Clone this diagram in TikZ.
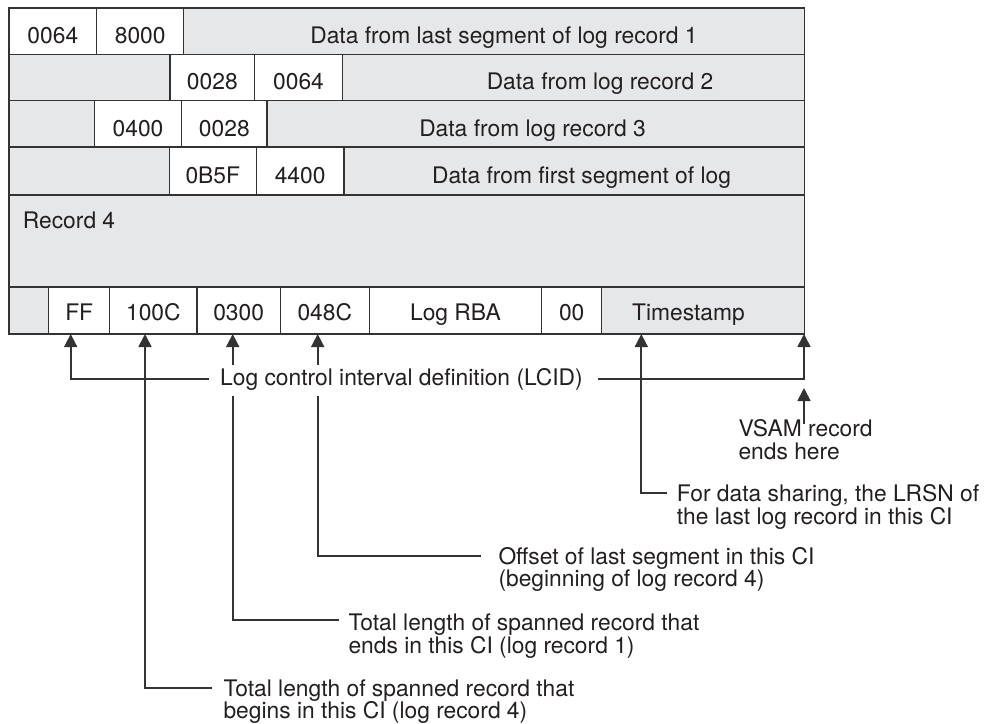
\documentclass[tikz,border=0pt]{standalone}
\usepackage{fontspec}
\setmainfont{TeX Gyre Heros}
\usetikzlibrary{arrows.meta}
\definecolor{boxgray}{HTML}{E6E7E8}
\definecolor{linec}{HTML}{333333}
\definecolor{txt}{HTML}{231F20}
\newcommand\labfont{\fontsize{22.8}{22.7}\selectfont}
\newcommand\mkcell[7]{%
  \node[cell,minimum width=#4pt,minimum height=#5pt] (#1) at (#2,#3) {};
  \node[lab] at ([yshift=#7pt]#1.south) {#6};}
\begin{document}
\begin{tikzpicture}[x=1pt,y=-1pt,
  cell/.style={draw=linec,fill=white,line width=1.5pt,anchor=north west,inner sep=0pt,outer sep=0pt},
  lab/.style={font=\labfont,text=txt,inner sep=0pt,anchor=base},
  note/.style={font=\labfont,text=txt,inner sep=0pt,anchor=base west},
  conn/.style={draw=linec,line width=1.7pt},
  arr/.style={conn,-{Triangle[length=13pt,width=13pt]}}]
\useasboundingbox (0,0) rectangle (990,723);
% frame
\node[draw=linec,fill=boxgray,line width=1.5pt,anchor=north west,inner sep=0pt,outer sep=0pt,
      minimum width=795.5pt,minimum height=326pt] (frame) at (9,8) {};
\foreach \yy in {54.5,100.5,147,195,287}
  \draw[draw=linec,line width=1.5pt] (9,\yy) -- (804.5,\yy);
% row 1
\mkcell{r1a}{9}{8}{87.7}{46.5}{0064}{11.5}
\mkcell{r1b}{96.7}{8}{87}{46.5}{8000}{11.5}
\node[lab] (g1) at (504,43) {Data from last segment of log record 1};
% row 2
\mkcell{r2a}{170}{54.5}{84.7}{46}{0028}{11.2}
\mkcell{r2b}{254.7}{54.5}{87.6}{46}{0064}{11.2}
\node[lab] (g2) at (600,89.3) {Data from log record 2};
% row 3
\mkcell{r3a}{94.3}{100.5}{87.4}{46.5}{0400}{10.3}
\mkcell{r3b}{181.7}{100.5}{85.3}{46.5}{0028}{10.3}
\node[lab] (g3) at (532.5,136.7) {Data from log record 3};
% row 4
\mkcell{r4a}{169.3}{147}{87}{48}{0B5F}{11.7}
\mkcell{r4b}{256.3}{147}{87.7}{48}{4400}{11.7}
\node[lab] (g4) at (581.5,183.3) {Data from first segment of log};
% row 5
\node[note] (rec4) at (22.7,228.3) {Record 4};
% row 6
\mkcell{c1}{48.7}{287}{61}{47}{FF}{14}
\mkcell{c2}{109.7}{287}{87.3}{47}{100C}{14}
\mkcell{c3}{197}{287}{83.3}{47}{0300}{14}
\mkcell{c4}{280.3}{287}{89}{47}{048C}{14}
\mkcell{c5}{369.3}{287}{172.4}{47}{Log RBA}{14}
\mkcell{c6}{541.7}{287}{60}{47}{00}{14}
\node[lab] (ts) at (688.5,320) {Timestamp};
% notes
\node[note] (lcid) at (220,385) {Log control interval definition (LCID)};
\node[note] (n1a) at (223.3,696) {Total length of spanned record that};
\node[note] (n1b) at (223.3,718.7) {begins in this CI (log record 4)};
\node[note] (n2a) at (348.3,630.7) {Total length of spanned record that};
\node[note] (n2b) at (348.3,653.4) {ends in this CI (log record 1)};
\node[note] (n3a) at (498.3,564) {Offset of last segment in this CI};
\node[note] (n3b) at (498.3,586.5) {(beginning of log record 4)};
\node[note] (n4a) at (676.7,501.7) {For data sharing, the LRSN of};
\node[note] (n4b) at (676.7,524.3) {the last log record in this CI};
\node[note] (n5a) at (738.3,436.7) {VSAM record};
\node[note] (n5b) at (738.3,459.2) {ends here};
% arrow targets
\coordinate (pFF) at (70.7,334);
\coordinate (p100C) at (145,334);
\coordinate (p0300) at (232.7,334);
\coordinate (p048C) at (317.7,334);
\coordinate (pTS) at (641.3,334);
\coordinate (pEnd) at (804,334);
% connector ends
\coordinate (lcidL) at (209,379.3);
\coordinate (lcidR) at (598,379.3);
\coordinate (k1) at (212,688.3);
\coordinate (k2) at (339,620);
\coordinate (k2b) at (232.7,396);
\coordinate (u2) at (232.7,365);
\coordinate (k3) at (481,555.7);
\coordinate (k3b) at (317.7,396);
\coordinate (u3) at (317.7,365);
\coordinate (k4) at (666.7,493.3);
\coordinate (v1) at (804,424);
\coordinate (v0) at (804,388);
% connectors
\draw[arr] (lcidL) -| (pFF);
\draw[arr] (lcidR) -| (pEnd);
\draw[arr] (k1) -| (p100C);
\draw[conn] (k2) -| (k2b);
\draw[arr] (u2) -- (p0300);
\draw[conn] (k3) -| (k3b);
\draw[arr] (u3) -- (p048C);
\draw[arr] (k4) -| (pTS);
\draw[arr] (v1) -- (v0);
\end{tikzpicture}
\end{document}
